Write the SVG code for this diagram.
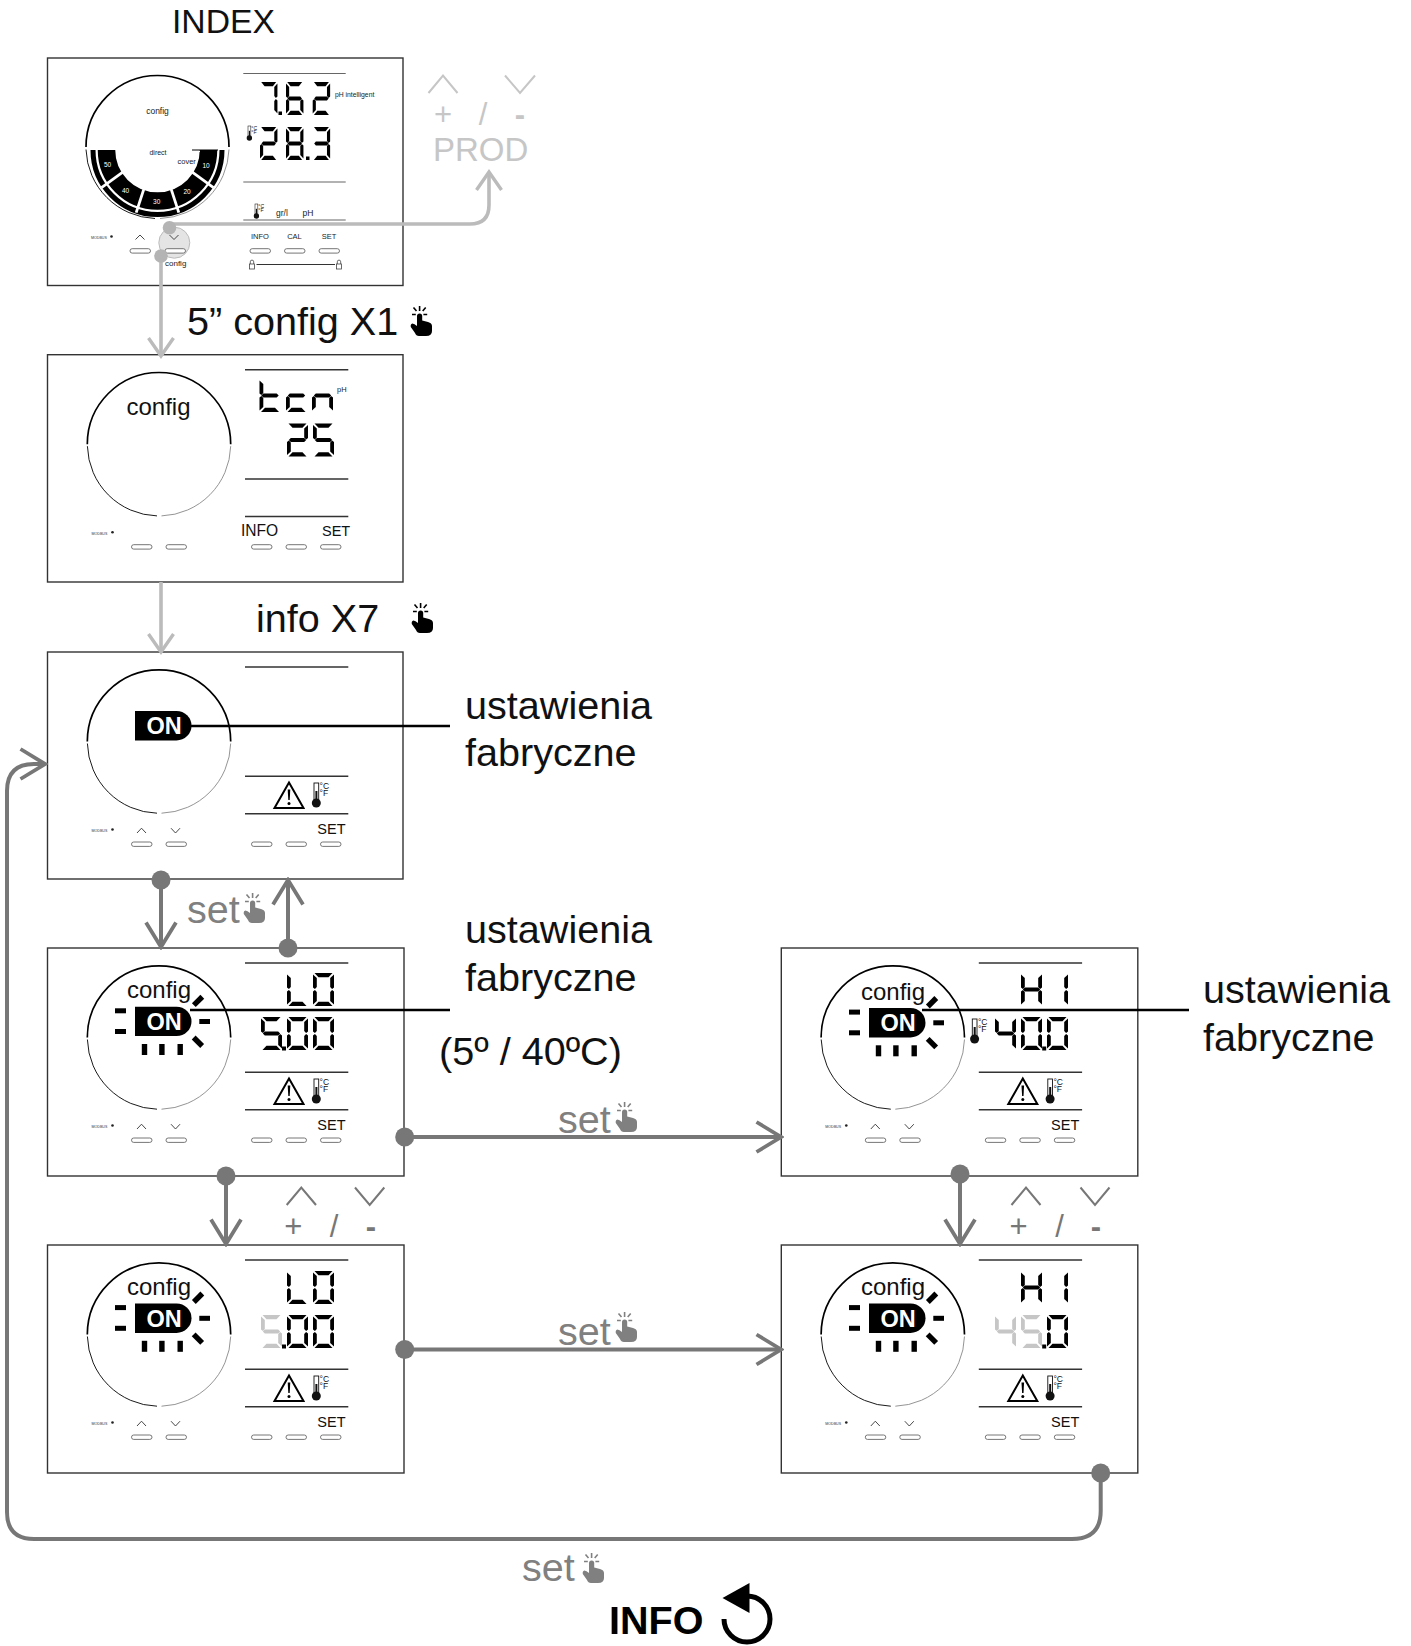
<svg xmlns="http://www.w3.org/2000/svg" width="1411" height="1646" viewBox="0 0 1411 1646">
<style>
text{font-family:"Liberation Sans",Arial,sans-serif}
.box{fill:#fff;stroke:#333;stroke-width:1.4}
.rule{stroke:#333;stroke-width:1.6;fill:none}
.btn{fill:#fff;stroke:#666;stroke-width:.9}
.chev{fill:none;stroke:#333;stroke-width:.9}
.big{font-size:39.6px;fill:#111}
.gset{font-size:39.6px;fill:#808080}
.cfg{font-size:24px;fill:#111}
.on{font-size:23.5px;font-weight:bold;fill:#fff;text-anchor:middle}
.setl{font-size:14.5px;fill:#111}
.lead{stroke:#000;stroke-width:2.6;fill:none}
.conl{fill:none;stroke:#bbb;stroke-width:3.6}
.cond{fill:none;stroke:#777;stroke-width:4}
.dotl{fill:#b4b4b4}
.dotd{fill:#777}
.sm{font-size:31px;text-anchor:middle}
.hy{font-size:31px;font-weight:bold;text-anchor:middle}
.schev{fill:none;stroke-width:2}
.gray{fill:#c6c6c6}
</style>
<defs>
<path id="a" d="M1.5 0H19.5L15.5 4.2H5.5Z"/>
<path id="d" d="M1.5 33H19.5L15.5 28.8H5.5Z"/>
<path id="g" d="M3.8 14.5H17.2L19.2 16.5L17.2 18.5H3.8L1.8 16.5Z"/>
<path id="f" d="M0 1.5L3.8 5V14L1.9 16L0 14.5Z"/>
<path id="b" d="M21 1.5L17.2 5V14L19.1 16L21 14.5Z"/>
<path id="e" d="M0 31.5L3.8 28V19L1.9 17L0 18.5Z"/>
<path id="c" d="M21 31.5L17.2 28V19L19.1 17L21 18.5Z"/>
<g id="d0"><use href="#a"/><use href="#b"/><use href="#c"/><use href="#d"/><use href="#e"/><use href="#f"/></g>
<g id="d1"><use href="#b"/><use href="#c"/></g>
<g id="d2"><use href="#a"/><use href="#b"/><use href="#g"/><use href="#e"/><use href="#d"/></g>
<g id="d3"><use href="#a"/><use href="#b"/><use href="#g"/><use href="#c"/><use href="#d"/></g>
<g id="d4"><use href="#f"/><use href="#g"/><use href="#b"/><use href="#c"/></g>
<g id="d5"><use href="#a"/><use href="#f"/><use href="#g"/><use href="#c"/><use href="#d"/></g>
<g id="d6"><use href="#a"/><use href="#f"/><use href="#g"/><use href="#e"/><use href="#c"/><use href="#d"/></g>
<g id="d7"><use href="#a"/><use href="#b"/><use href="#c"/></g>
<g id="d8"><use href="#d0"/><use href="#g"/></g>
<g id="dL"><use href="#f"/><use href="#e"/><use href="#d"/></g>
<g id="dH"><use href="#f"/><use href="#e"/><use href="#g"/><use href="#b"/><use href="#c"/></g>
<g id="dt"><use href="#f"/><use href="#e"/><use href="#g"/><use href="#d"/></g>
<g id="dc"><use href="#g"/><use href="#e"/><use href="#d"/></g>
<g id="dn"><use href="#g"/><use href="#e"/><use href="#c"/></g>
<g id="hand">
<path d="M7 10a2.6 2.6 0 0 1 5.2 0V14.5L18 16Q22 17 22 20V25Q22 30 16 30H9Q6 30 5 27L.8 21Q.2 18 2.4 17.5Q4.4 17.5 7 20Z" fill="currentColor"/>
<path d="M9.6 0V5M3.5 1.5L6.5 5M15.7 1.5L12.7 5M2 8.5H5.8M17.2 8.5H13.4" stroke="currentColor" stroke-width="1.6" fill="none"/>
</g>
<g id="thermo">
<rect x="0" y="0" width="4.7" height="17" fill="#fff" stroke="#111" stroke-width=".9"/>
<rect x="1.4" y="8" width="2" height="10" fill="#111"/>
<circle cx="2.3" cy="20" r="4.5" fill="#111"/>
<text x="5.6" y="6" font-size="8.5" fill="#111">°C</text>
<text x="5.6" y="12.8" font-size="8.5" fill="#111">°F</text>
</g>
<g id="warn">
<path d="M15.5 1.5L30 27H1Z" fill="#fff" stroke="#000" stroke-width="2"/>
<path d="M14.2 8.5H16.8L16.2 19H14.8Z" fill="#000"/>
<circle cx="15.5" cy="22.5" r="1.5" fill="#000"/>
</g>
<g id="panel">
<path d="M39.8 89.5A71.7 71.7 0 0 1 183.2 89.5" fill="none" stroke="#000" stroke-width="1.7"/>
<path d="M39.9 91.5A71.7 71.7 0 0 0 109.5 161.2" fill="none" stroke="#000" stroke-width=".9"/>
<path d="M114 161.2A71.7 71.7 0 0 0 183.2 91.5" fill="none" stroke="#888" stroke-width=".9"/>
<rect x="84" y="190" width="20.5" height="4.4" rx="2.2" class="btn"/>
<rect x="118.5" y="190" width="20.5" height="4.4" rx="2.2" class="btn"/>
<rect x="204" y="190" width="20.5" height="4.4" rx="2.2" class="btn"/>
<rect x="238.5" y="190" width="20.5" height="4.4" rx="2.2" class="btn"/>
<rect x="273" y="190" width="20.5" height="4.4" rx="2.2" class="btn"/>
<text x="44" y="180" font-size="3.6" fill="#333">MODBUS</text>
<circle cx="65" cy="177.5" r="1.3" fill="#222"/>
</g>
<g id="chevs">
<path d="M89.5 181L94 176.2L98.5 181" class="chev"/>
<path d="M123.5 176.2L128 181L132.5 176.2" class="chev"/>
</g>
<g id="rules">
<path d="M197.5 15H300.8M197.5 124.3H300.8M197.5 161.8H300.8" class="rule"/>
</g>
<g id="status">
<use href="#warn" x="226" y="129"/>
<use href="#thermo" x="266.5" y="131"/>
<text x="269.8" y="182" class="setl">SET</text>
</g>
<g id="rays" fill="#000">
<rect x="-20" y="1.6" width="11" height="5"/>
<rect x="-20" y="22.3" width="11" height="5"/>
<rect x="64.3" y="12.3" width="10.7" height="5"/>
<rect x="57" y="-8.4" width="12" height="5.4" transform="rotate(-45 63 -5.8)"/>
<rect x="57" y="32.4" width="12" height="5.4" transform="rotate(45 63 35)"/>
<rect x="6.8" y="37.3" width="5.4" height="11"/>
<rect x="24.2" y="37.3" width="5.4" height="11"/>
<rect x="42.5" y="37.3" width="5.4" height="11"/>
</g>
<path id="onpill" d="M0 0H41.5A15 14.7 0 0 1 41.5 29.4H0Z" fill="#000"/>
<g id="lock"><path d="M-1.7 0V-2.2A1.7 1.7 0 0 1 1.7 -2.2V0" fill="none" stroke="#444" stroke-width=".8"/><rect x="-2.5" y="0" width="5" height="5" fill="#fff" stroke="#444" stroke-width=".8"/></g>
<marker id="mL" markerUnits="userSpaceOnUse" markerWidth="30" markerHeight="32" refX="25" refY="16" orient="auto" viewBox="0 0 30 32"><path d="M7 3.5L25 16L7 28.5" fill="none" stroke="#bbb" stroke-width="3.4"/></marker>
<marker id="mD" markerUnits="userSpaceOnUse" markerWidth="30" markerHeight="36" refX="27" refY="18" orient="auto" viewBox="0 0 30 36"><path d="M2.5 3L27 18L2.5 33" fill="none" stroke="#777" stroke-width="3.8"/></marker>
</defs>
<rect width="1411" height="1646" fill="#fff"/>

<g id="node-index">
<rect class="box" x="47.5" y="58" width="355.5" height="227.5"/>
<path d="M86 147A71.5 71.5 0 0 1 229 147" fill="none" stroke="#000" stroke-width="1.7"/>
<path d="M86 149.5A71.5 71.5 0 0 0 155 218.5" fill="none" stroke="#000" stroke-width=".9"/>
<path d="M160 218.5A71.5 71.5 0 0 0 229 149.5" fill="none" stroke="#888" stroke-width=".9"/>
<g transform="translate(157.5 147)">
<path d="M-51 3A51 51 0 0 0 51 3" fill="none" stroke="#000" stroke-width="17.5"/>
<path d="M-64.5 3A64.5 64.5 0 0 0 64.5 3" fill="none" stroke="#000" stroke-width="5"/>
<g stroke="#fff" stroke-width="2.8"><path d="M32 23.2L56 40.7"/><path d="M12.2 37.6L21.3 65.6"/><path d="M-12.2 37.6L-21.3 65.6"/><path d="M-32 23.2L-56 40.7"/></g>
</g>
<path d="M192 150H218" stroke="#000" stroke-width="1"/>
<path d="M192 151.5H200" stroke="#fff" stroke-width="1"/>
<text x="157.5" y="114" font-size="8.5" text-anchor="middle" fill="#222">config</text>
<text x="158" y="155" font-size="7" text-anchor="middle" fill="#222">direct</text>
<text x="177.5" y="163.5" font-size="7.5" fill="#222">cover</text>
<g font-size="6.5" fill="#fff" text-anchor="middle"><text x="107.5" y="167">50</text><text x="125.5" y="193">40</text><text x="156.7" y="203.5">30</text><text x="187" y="193.5">20</text><text x="206" y="167.5">10</text></g>
<path d="M243.3 73.5H345.7M243.3 182H345.7M243.3 220H345.7" fill="none" stroke="#666" stroke-width="1.2"/>
<use href="#d7" transform="translate(260 82) scale(.83 1)"/><rect x="278.5" y="111.5" width="3.5" height="3.5"/><use href="#d6" transform="translate(286 82) scale(.83 1)"/><use href="#d2" transform="translate(312.7 82) scale(.83 1)"/>
<use href="#d2" transform="translate(260 127) scale(.83 1)"/><use href="#d8" transform="translate(286 127) scale(.83 1)"/><rect x="306" y="156.5" width="3.5" height="3.5"/><use href="#d3" transform="translate(312.7 127) scale(.83 1)"/>
<text x="335" y="97" font-size="6.8" fill="#222">pH intelligent</text>
<use href="#thermo" transform="translate(248 126) scale(.6)"/>
<use href="#thermo" transform="translate(255 204) scale(.6)"/>
<text x="276" y="215.7" font-size="8.5" fill="#222">gr/l</text>
<text x="302.5" y="215.7" font-size="8.5" fill="#222">pH</text>
<circle cx="174.3" cy="242.7" r="15.5" fill="#e4e4e4" stroke="#bbb" stroke-width="1"/>
<rect x="130" y="248.7" width="20.5" height="4.4" rx="2.2" class="btn"/>
<rect x="165" y="248.7" width="20.5" height="4.4" rx="2.2" class="btn"/>
<rect x="250" y="248.7" width="20.5" height="4.4" rx="2.2" class="btn"/>
<rect x="284.5" y="248.7" width="20.5" height="4.4" rx="2.2" class="btn"/>
<rect x="319" y="248.7" width="20.5" height="4.4" rx="2.2" class="btn"/>
<path d="M135.5 239.5L140 235L144.5 239.5M169.5 235L174 239.5L178.5 235" class="chev"/>
<text x="91" y="239" font-size="3.6" fill="#333">MODBUS</text><circle cx="111.5" cy="236.5" r="1.3" fill="#222"/>
<g font-size="7.5" fill="#222" text-anchor="middle"><text x="260" y="239">INFO</text><text x="294.5" y="239">CAL</text><text x="329" y="239">SET</text></g>
<text x="165" y="266" font-size="8" fill="#222">config</text>
<path d="M256.5 264.5H335" stroke="#333" stroke-width="1"/>
<use href="#lock" x="252" y="264"/><use href="#lock" x="339" y="264"/>
</g>

<g id="node-tcn">
<rect class="box" x="47.5" y="354.7" width="355.5" height="227.3"/>
<g transform="translate(47.5 354.7)"><use href="#panel"/><use href="#rules"/>
<text x="79" y="60" class="cfg">config</text>
<text x="193.5" y="181.5" font-size="15.6" fill="#111">INFO</text>
<text x="274.5" y="181.5" class="setl">SET</text>
<text x="289.5" y="37" font-size="7.5" fill="#222">pH</text>
</g>
<use href="#dt" x="259.5" y="379"/><use href="#dc" x="286" y="379"/><use href="#dn" x="312" y="379"/>
<use href="#d2" x="287" y="423.5"/><use href="#d5" x="313" y="423.5"/>
</g>

<g id="node-on">
<rect class="box" x="47.5" y="652" width="355.5" height="227"/>
<g transform="translate(47.5 652)"><use href="#panel"/><use href="#chevs"/><use href="#rules"/><use href="#status"/></g>
<use href="#onpill" x="135" y="711"/>
<text x="164" y="734" class="on">ON</text>
</g>

<g id="node-lo">
<rect class="box" x="47.5" y="948" width="356.5" height="228"/>
<g transform="translate(47.5 948)"><use href="#panel"/><use href="#chevs"/><use href="#rules"/><use href="#status"/></g>
<text x="127" y="998" class="cfg">config</text>
<use href="#onpill" x="135" y="1006.7"/><use href="#rays" x="135" y="1006.7"/>
<text x="164" y="1029.5" class="on">ON</text>
<use href="#dL" x="287" y="973"/><use href="#d0" x="313" y="973"/>
<use href="#d5" x="261" y="1017"/><rect x="282" y="1046.5" width="4" height="4"/><use href="#d0" x="287" y="1017"/><use href="#d0" x="313" y="1017"/>
</g>

<g id="node-lo-edit">
<rect class="box" x="47.5" y="1245" width="356.5" height="228"/>
<g transform="translate(47.5 1245)"><use href="#panel"/><use href="#chevs"/><use href="#rules"/><use href="#status"/></g>
<text x="127" y="1295" class="cfg">config</text>
<use href="#onpill" x="135" y="1303.5"/><use href="#rays" x="135" y="1303.5"/>
<text x="164" y="1326.5" class="on">ON</text>
<use href="#dL" x="287" y="1271"/><use href="#d0" x="313" y="1271"/>
<use href="#d5" x="261" y="1315" class="gray"/><rect x="282" y="1344.5" width="4" height="4"/><use href="#d0" x="287" y="1315"/><use href="#d0" x="313" y="1315"/>
</g>

<g id="node-hi">
<rect class="box" x="781.3" y="948" width="356.5" height="228"/>
<g transform="translate(781.3 948)"><use href="#panel"/><use href="#chevs"/><use href="#rules"/><use href="#status"/></g>
<text x="861" y="1000" class="cfg">config</text>
<use href="#onpill" x="869" y="1008"/><use href="#rays" x="869" y="1008"/>
<text x="898" y="1031" class="on">ON</text>
<use href="#dH" x="1021" y="973"/><use href="#d1" x="1047" y="973"/>
<use href="#thermo" x="972.3" y="1019"/>
<use href="#d4" x="995" y="1017"/><use href="#d0" x="1021" y="1017"/><rect x="1042.2" y="1046.5" width="4" height="4"/><use href="#d0" x="1047" y="1017"/>
</g>

<g id="node-hi-edit">
<rect class="box" x="781.3" y="1245" width="356.5" height="228"/>
<g transform="translate(781.3 1245)"><use href="#panel"/><use href="#chevs"/><use href="#rules"/><use href="#status"/></g>
<text x="861" y="1295" class="cfg">config</text>
<use href="#onpill" x="869" y="1303.5"/><use href="#rays" x="869" y="1303.5"/>
<text x="898" y="1326.5" class="on">ON</text>
<use href="#dH" x="1021" y="1271"/><use href="#d1" x="1047" y="1271"/>
<use href="#d4" x="995" y="1315" class="gray"/><use href="#d5" x="1021" y="1315" class="gray"/><rect x="1042.2" y="1344.5" width="4" height="4"/><use href="#d0" x="1047" y="1315"/>
</g>

<g id="connectors">
<path class="conl" d="M168 224H470Q489 224 489 205V172" marker-end="url(#mL)"/>
<path class="conl" d="M161 256V356" marker-end="url(#mL)"/>
<path class="conl" d="M161 582V652" marker-end="url(#mL)"/>
<circle class="dotl" cx="169.5" cy="227.7" r="6.8"/>
<circle class="dotl" cx="161" cy="256" r="6.8"/>
<path class="cond" d="M161 880V947" marker-end="url(#mD)"/>
<path class="cond" d="M288 948V880" marker-end="url(#mD)"/>
<path class="cond" d="M226 1176V1244" marker-end="url(#mD)"/>
<path class="cond" d="M404.7 1137H781" marker-end="url(#mD)"/>
<path class="cond" d="M960 1174V1244" marker-end="url(#mD)"/>
<path class="cond" d="M404.7 1349.5H781" marker-end="url(#mD)"/>
<path class="cond" d="M1100.7 1473V1511Q1100.7 1539 1072 1539H34Q7 1539 7 1512V791Q7 764 34 764H45" marker-end="url(#mD)"/>
<g class="dotd">
<circle cx="161" cy="880" r="9.5"/><circle cx="288" cy="948" r="9.5"/><circle cx="226" cy="1176" r="9.5"/><circle cx="404.7" cy="1137" r="9.5"/><circle cx="960" cy="1174" r="9.5"/><circle cx="404.7" cy="1349.5" r="9.5"/><circle cx="1100.7" cy="1473" r="9.5"/>
</g>
<path class="lead" d="M190 726H450M190 1010H450M922 1010H1189"/>
</g>

<g id="labels">
<text x="172" y="33" font-size="33.7" fill="#111">INDEX</text>
<text x="187" y="335" class="big">5” config X1</text>
<use href="#hand" x="410" y="306" color="#000"/>
<text x="256" y="632" class="big">info X7</text>
<use href="#hand" x="411" y="603" color="#000"/>
<text x="465" y="719" class="big">ustawienia</text><text x="465" y="766" class="big">fabryczne</text>
<text x="465" y="943" class="big">ustawienia</text><text x="465" y="991" class="big">fabryczne</text>
<text x="1203" y="1003" class="big">ustawienia</text><text x="1203" y="1051" class="big">fabryczne</text>
<text x="439" y="1065" class="big">(5º / 40ºC)</text>
<text x="187" y="923" class="gset">set</text><use href="#hand" x="243" y="893" color="#808080"/>
<text x="558" y="1133" class="gset">set</text><use href="#hand" x="615" y="1102" color="#808080"/>
<text x="558" y="1345" class="gset">set</text><use href="#hand" x="615" y="1312" color="#808080"/>
<text x="522" y="1581" class="gset">set</text><use href="#hand" x="582" y="1553" color="#808080"/>
<text x="609" y="1634" font-size="39.5" font-weight="bold" fill="#000">INFO</text>
<path d="M747 1596A23 23 0 1 1 724 1619" fill="none" stroke="#000" stroke-width="5"/>
<path d="M722.5 1598L749.5 1583V1613Z" fill="#000"/>
<path class="schev" stroke="#c6c6c6" d="M428.5 93L443 75.5L457.5 93M505 75.5L520 93L535 75.5"/>
<g fill="#c6c6c6"><text x="443" y="125" class="sm">+</text><text x="483" y="125" class="sm">/</text><text x="520" y="125" class="hy">-</text></g>
<text x="433" y="161" font-size="33" fill="#c6c6c6">PROD</text>
<path class="schev" stroke="#777" d="M286.7 1205L301.3 1187.5L316 1205M355 1187.5L369.7 1205L384.3 1187.5"/>
<g fill="#777"><text x="293.3" y="1237" class="sm">+</text><text x="334" y="1237" class="sm">/</text><text x="371" y="1237" class="hy">-</text></g>
<path class="schev" stroke="#777" d="M1011.5 1205L1026 1187.5L1040.5 1205M1080.5 1187.5L1095 1205L1109.5 1187.5"/>
<g fill="#777"><text x="1018.5" y="1237" class="sm">+</text><text x="1059.5" y="1237" class="sm">/</text><text x="1096" y="1237" class="hy">-</text></g>
</g>
</svg>
